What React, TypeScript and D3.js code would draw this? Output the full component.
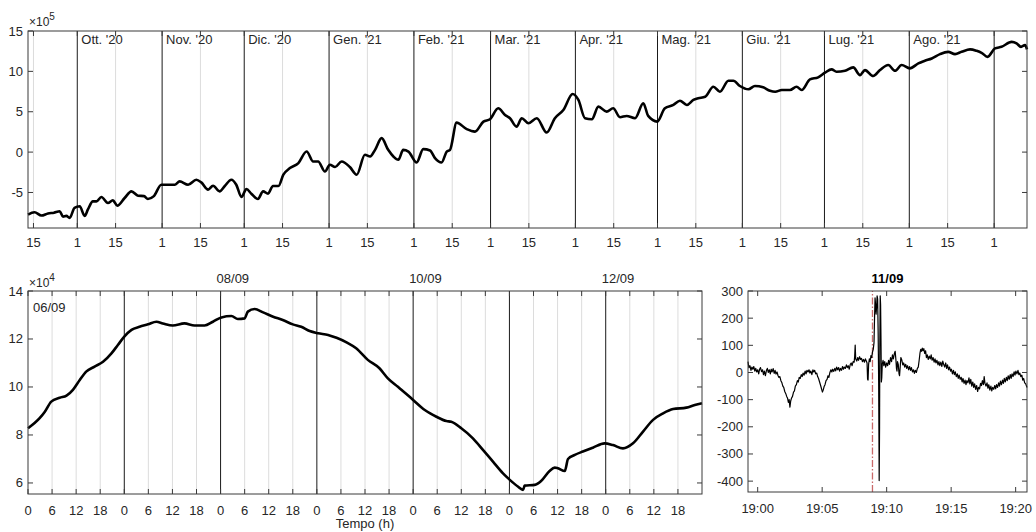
import * as React from "react";
import * as d3 from "d3";

const FONT = "'Liberation Sans', Arial, sans-serif";
const AXIS = "#3a3a3a";
const TXT = "#262626";

// ---- top panel: one year, values ×10^5
const topStart = new Date(2020, 8, 13);
const topEnd = new Date(2021, 8, 13);
const monthLabels = ["Ott. '20", "Nov. '20", "Dic. '20", "Gen. '21", "Feb. '21", "Mar. '21", "Apr. '21", "Mag. '21", "Giu. '21", "Lug. '21", "Ago. '21"];
const topYTicks = [-5, 0, 5, 10, 15];
// [days since 13/09/2020, value]
const topSeries: [number, number][] = [
  [0, -7.74], [2.4, -7.45], [4.9, -7.86], [7.3, -7.6], [9.5, -7.5], [11.6, -7.33], [12.8, -8.0], [14, -7.9], [15.2, -8.15], [17, -6.9],
  [18.9, -6.7], [20.7, -7.9], [21.9, -7.1], [23.7, -6.1], [25, -6.1], [26.8, -5.56], [29.2, -6.3], [31, -5.97], [32.6, -6.63], [35.3, -5.68],
  [37.8, -4.86], [40.2, -5.4], [42.4, -5.45], [43.8, -5.8], [46, -5.45], [48.7, -4.04], [51.1, -4.04], [53.6, -4.04], [55.4, -3.63], [58.5, -4.04],
  [61.5, -3.42], [63.3, -3.75], [65.8, -4.65], [67.6, -4.16], [70, -4.86], [71.9, -4.2], [74.3, -3.42], [76.1, -4.04], [78, -5.56], [79.8, -4.57],
  [81.6, -5.15], [84, -5.8], [85.9, -4.86], [87.7, -5.15], [89.5, -4.2], [91.5, -4.2], [93.3, -2.8], [95.7, -1.98], [98.8, -1.36], [101.8, 0.07],
  [104.2, -1.16], [106, -1.16], [108.5, -2.4], [110.3, -1.57], [112.2, -1.85], [114.6, -1.16], [117.6, -1.85], [120.1, -2.8], [123.1, -0.33], [125, -0.54],
  [126.8, 0.28], [129.2, 1.73], [131.6, 0.28], [133.5, -0.54], [135.3, -0.95], [137.1, 0.28], [139, 0.07], [142, -1.28], [144.4, 0.37], [146.9, 0.2],
  [148.7, -0.74], [151.1, -1.28], [153, 0.07], [154.2, 0.28], [156.6, 3.65], [160.3, 2.84], [163.3, 2.54], [166.4, 3.78], [168.8, 4.07], [171.8, 5.43],
  [174.3, 4.6], [176.1, 4.2], [178.5, 3.16], [180.4, 4.2], [182.8, 3.58], [185.9, 4.2], [189.5, 2.42], [192.5, 4.2], [195.6, 5.22], [199, 7.2],
  [201.1, 6.46], [203.5, 4.2], [206, 4.07], [208.4, 5.63], [211.4, 5.01], [213.8, 5.43], [216.3, 4.32], [218.7, 4.48], [221.8, 4.2], [224.8, 6.05],
  [226.6, 4.48], [229.9, 3.78], [232.7, 5.43], [235.8, 5.84], [238.2, 6.37], [240.7, 5.84], [243.1, 6.46], [244.9, 6.67], [247.4, 6.86], [250.4, 8.1],
  [252.8, 7.48], [255.9, 8.84], [257.7, 8.84], [260.1, 8.19], [263.2, 7.78], [265.6, 8.19], [268.6, 8.02], [271.1, 7.6], [273, 7.48], [275.4, 7.69],
  [278.4, 7.69], [280.8, 8.1], [282.7, 7.69], [285.7, 9.01], [288.7, 9.26], [291.2, 9.83], [293.6, 10.25], [295.4, 9.95], [298.5, 10.07], [301.5, 10.49],
  [304, 9.54], [305.8, 10.16], [308.8, 9.42], [311.3, 10.16], [314.3, 10.78], [316.8, 10.07], [319.2, 10.78], [322.2, 10.37], [325.3, 10.99], [327.7, 11.31],
  [330.2, 11.6], [333.2, 12.14], [336.2, 12.42], [338.7, 12.14], [341.1, 12.42], [344.2, 12.72], [346.6, 12.54], [348.4, 12.3], [350.6, 11.8], [353.3, 12.84],
  [355.7, 13.04], [359.4, 13.65], [361.2, 13.46], [362.8, 13.04], [364.3, 13.25], [365, 12.72],
];

// ---- bottom-left panel: 7 days in hours, values ×10^4
const dayLabels = ["08/09", "10/09", "12/09"];
const dayLabelAt = [2, 4, 6];
const midYTicks = [6, 8, 10, 12, 14];
const midSeries: [number, number][] = [
  [0, 8.28], [2.9, 8.7], [4.2, 8.97], [5.8, 9.39], [7.9, 9.55], [9.6, 9.64], [11.2, 9.88], [12.9, 10.29], [14.5, 10.64], [16.6, 10.85],
  [18.7, 11.05], [20.8, 11.4], [22.4, 11.75], [24, 12.1], [25.8, 12.38], [27.8, 12.51], [29.9, 12.61], [32, 12.72], [33.6, 12.65], [36.1, 12.56],
  [39, 12.65], [41.5, 12.56], [44, 12.56], [46.1, 12.72], [48.2, 12.9], [50.7, 12.96], [52.3, 12.83], [54, 12.86], [54.8, 13.14], [56.5, 13.25],
  [58.6, 13.11], [61.1, 12.93], [63.5, 12.79], [66, 12.61], [68.1, 12.51], [70.2, 12.33], [72.3, 12.24], [74.8, 12.17], [76.9, 12.05], [79.4, 11.86],
  [81.8, 11.61], [84.7, 11.13], [87.6, 10.78], [89.7, 10.36], [92.2, 10.01], [96, 9.46], [98.9, 9.04], [101.8, 8.76], [104.3, 8.58], [105.5, 8.55],
  [108, 8.28], [110.9, 7.86], [113.4, 7.38], [115.9, 6.89], [118.4, 6.4], [120.1, 6.13], [122.1, 5.85], [123.4, 5.71], [123.8, 5.89], [126.3, 5.92],
  [127.9, 6.08], [130, 6.5], [131.3, 6.64], [132.1, 6.61], [133.8, 6.5], [134.6, 7.0], [136.3, 7.17], [138.3, 7.31], [140.8, 7.47], [143.7, 7.65],
  [145.8, 7.58], [148.3, 7.44], [150.8, 7.65], [153.3, 8.14], [155.8, 8.63], [158.3, 8.9], [160.8, 9.08], [164.1, 9.14], [166.2, 9.25], [168, 9.32],
];

// ---- bottom-right panel: minutes after 19:00 on 11/09
const rtXTicks = [0, 5, 10, 15, 20];
const rtXLabels = ["19:00", "19:05", "19:10", "19:15", "19:20"];
const rtYTicks = [-400, -300, -200, -100, 0, 100, 200, 300];
const rtMarker = 8.9;
const rtSeries: [number, number][] = [
  [-0.75, 40], [-0.68, 18], [-0.6, 25], [-0.52, 8], [-0.45, 20], [-0.38, 12], [-0.3, 22], [-0.22, 5], [-0.15, 15], [-0.08, 2],
  [0, 10], [0.08, -5], [0.15, 12], [0.22, 18], [0.3, 3], [0.38, 10], [0.45, -8], [0.52, 5], [0.6, -12], [0.68, 8],
  [0.75, 15], [0.82, 0], [0.9, 10], [0.98, -5], [1.05, 12], [1.12, 2], [1.2, 14], [1.28, -3], [1.35, 8], [1.42, -6],
  [1.5, 2], [1.58, -12], [1.65, -18], [1.72, -15], [1.8, -30], [1.88, -38], [1.95, -50], [2.02, -55], [2.1, -70], [2.18, -78],
  [2.25, -88], [2.32, -95], [2.38, -110], [2.44, -100], [2.5, -128], [2.56, -105], [2.62, -95], [2.7, -88], [2.78, -72], [2.85, -68],
  [2.92, -50], [3.0, -45], [3.08, -30], [3.15, -35], [3.22, -18], [3.3, -22], [3.38, -8], [3.45, -15], [3.52, -2], [3.6, -10],
  [3.68, 5], [3.75, -5], [3.82, 8], [3.9, 2], [3.98, 10], [4.05, -2], [4.12, 5], [4.2, -8], [4.28, 10], [4.35, 2],
  [4.42, 8], [4.5, -5], [4.58, -2], [4.65, -15], [4.72, -22], [4.8, -35], [4.88, -48], [4.95, -60], [5.02, -72], [5.08, -65],
  [5.15, -52], [5.22, -45], [5.3, -30], [5.38, -25], [5.45, -12], [5.52, -18], [5.6, 0], [5.68, 10], [5.75, 2], [5.82, 12],
  [5.9, 4], [5.98, 15], [6.05, 6], [6.12, 20], [6.2, 10], [6.28, 18], [6.35, 5], [6.42, 15], [6.5, 8], [6.58, 22],
  [6.65, 12], [6.72, 20], [6.8, 15], [6.88, 28], [6.95, 18], [7.02, 25], [7.1, 12], [7.18, 30], [7.25, 35], [7.32, 25],
  [7.4, 40], [7.48, 38], [7.52, 60], [7.56, 101], [7.6, 50], [7.68, 42], [7.75, 55], [7.82, 45], [7.9, 58], [7.98, 48],
  [8.05, 52], [8.12, 40], [8.2, 48], [8.28, 38], [8.35, 50], [8.42, 42], [8.48, 35], [8.52, -25], [8.56, -28], [8.6, 30],
  [8.66, 50], [8.72, 40], [8.78, 62], [8.84, 55], [8.9, 75], [8.96, 85], [9.02, 110], [9.06, 200], [9.1, 275], [9.14, 250],
  [9.18, 215], [9.22, 240], [9.26, 282], [9.3, 270], [9.34, 150], [9.38, -40], [9.42, -398], [9.45, -200], [9.47, 100], [9.5, 282],
  [9.53, 250], [9.56, 120], [9.59, -35], [9.62, -20], [9.66, 30], [9.72, 45], [9.78, 25], [9.85, 40], [9.92, 20], [10.0, 35],
  [10.08, 25], [10.15, 45], [10.22, 30], [10.3, 55], [10.38, 40], [10.45, 65], [10.52, 50], [10.6, 70], [10.66, 78], [10.72, 45],
  [10.76, 15], [10.8, 5], [10.84, 40], [10.9, 30], [10.96, -5], [11.0, -12], [11.05, 20], [11.1, 55], [11.18, 45], [11.25, 28],
  [11.32, 35], [11.4, 20], [11.48, 30], [11.55, 15], [11.62, 25], [11.7, 10], [11.78, 22], [11.85, 8], [11.92, 18], [12.0, 2],
  [12.08, 10], [12.15, -3], [12.22, 8], [12.3, 0], [12.38, 15], [12.45, 20], [12.52, 45], [12.58, 70], [12.64, 85], [12.7, 78],
  [12.76, 90], [12.82, 80], [12.88, 88], [12.95, 70], [13.02, 80], [13.08, 55], [13.15, 65], [13.22, 48], [13.3, 60], [13.38, 50],
  [13.45, 65], [13.52, 45], [13.6, 55], [13.68, 38], [13.75, 50], [13.82, 35], [13.9, 45], [13.98, 28], [14.05, 40], [14.12, 25],
  [14.2, 38], [14.28, 22], [14.35, 42], [14.42, 30], [14.5, 20], [14.58, 35], [14.65, 15], [14.72, 28], [14.8, 10], [14.88, 20],
  [14.95, 5], [15.02, 12], [15.1, -5], [15.18, 8], [15.25, -8], [15.32, 2], [15.4, -15], [15.48, -5], [15.55, -22], [15.62, -10],
  [15.7, -25], [15.78, -18], [15.85, -35], [15.92, -22], [16.0, -40], [16.08, -28], [16.15, -45], [16.22, -30], [16.3, -38], [16.38, -20],
  [16.45, -42], [16.52, -25], [16.6, -50], [16.68, -35], [16.75, -55], [16.82, -42], [16.9, -62], [16.98, -48], [17.05, -70], [17.12, -55],
  [17.2, -60], [17.28, -40], [17.35, -48], [17.42, -30], [17.5, -45], [17.56, -15], [17.62, -40], [17.7, -50], [17.78, -38], [17.85, -58],
  [17.92, -45], [18.0, -65], [18.08, -50], [18.15, -68], [18.22, -55], [18.3, -62], [18.38, -48], [18.45, -60], [18.52, -45], [18.6, -55],
  [18.68, -38], [18.75, -50], [18.82, -32], [18.9, -45], [18.98, -28], [19.05, -40], [19.12, -22], [19.2, -35], [19.28, -18], [19.35, -30],
  [19.42, -12], [19.5, -25], [19.58, -8], [19.65, -22], [19.72, -5], [19.8, -15], [19.88, 2], [19.95, -10], [20.02, 5], [20.1, -5],
  [20.18, 8], [20.25, -8], [20.32, -2], [20.4, -15], [20.48, -10], [20.55, -28], [20.62, -22], [20.7, -38], [20.78, -42], [20.88, -55],
];

const TICK = 5;

const Times10 = ({ x, y, exp }: { x: number; y: number; exp: number }) => (
  <text x={x} y={y} fontSize={12} fill={TXT} fontFamily={FONT}>
    ×10<tspan dy={-6} fontSize={10}>{exp}</tspan>
  </text>
);

const TopPanel = () => {
  const x = d3.scaleTime().domain([topStart, topEnd]).range([28, 1027]);
  const y = d3.scaleLinear().domain([-9.4, 15]).range([228, 31]);
  const [x0, x1] = x.range();
  const [y0, y1] = y.range();
  const months = d3.timeMonth.range(d3.timeDay.offset(topStart, 1), topEnd);
  const mids = d3.timeDay.range(topStart, topEnd).filter((d) => d.getDate() === 15);
  const toDate = (d: number) => new Date(topStart.getTime() + d * 864e5);
  const line = d3
    .line<[number, number]>()
    .x((d) => x(toDate(d[0])))
    .y((d) => y(d[1]))
    .curve(d3.curveMonotoneX);

  return (
    <g>
      {mids.map((d, i) => (
        <line key={"g" + i} x1={x(d)} x2={x(d)} y1={y0} y2={y1} stroke="#dcdcdc" />
      ))}
      {months.map((d, i) => (
        <line key={"m" + i} x1={x(d)} x2={x(d)} y1={y0} y2={y1} stroke="#1a1a1a" />
      ))}
      {months.slice(0, monthLabels.length).map((d, i) => (
        <text key={"ml" + i} x={x(d) + 4} y={44} fontSize={13} fill={TXT} fontFamily={FONT}>
          {monthLabels[i]}
        </text>
      ))}
      <path d={line(topSeries) ?? ""} fill="none" stroke="#000" strokeWidth={2.6} strokeLinejoin="round" />
      <rect x={x0} y={y1} width={x1 - x0} height={y0 - y1} fill="none" stroke={AXIS} />
      {[...mids, ...months].map((d, i) => (
        <g key={"xt" + i}>
          <line x1={x(d)} x2={x(d)} y1={y0} y2={y0 - TICK} stroke={AXIS} />
          <line x1={x(d)} x2={x(d)} y1={y1} y2={y1 + TICK} stroke={AXIS} />
          <text x={x(d)} y={247} textAnchor="middle" fontSize={13} fill={TXT} fontFamily={FONT}>
            {d.getDate()}
          </text>
        </g>
      ))}
      {topYTicks.map((v) => (
        <g key={"yt" + v}>
          <line x1={x0} x2={x0 + TICK} y1={y(v)} y2={y(v)} stroke={AXIS} />
          <line x1={x1} x2={x1 - TICK} y1={y(v)} y2={y(v)} stroke={AXIS} />
          <text x={x0 - 5} y={y(v) + 4.5} textAnchor="end" fontSize={13} fill={TXT} fontFamily={FONT}>
            {v}
          </text>
        </g>
      ))}
      <Times10 x={29} y={26} exp={5} />
    </g>
  );
};

const MidPanel = () => {
  const x = d3.scaleLinear().domain([0, 168]).range([28, 702]);
  const y = d3.scaleLinear().domain([5.54, 14]).range([494, 291]);
  const [x0, x1] = x.range();
  const [y0, y1] = y.range();
  const hours = d3.range(0, 168, 6);
  const line = d3
    .line<[number, number]>()
    .x((d) => x(d[0]))
    .y((d) => y(d[1]))
    .curve(d3.curveMonotoneX);

  return (
    <g>
      {hours.filter((h) => h > 0).map((h) => (
        <line key={"g" + h} x1={x(h)} x2={x(h)} y1={y0} y2={y1} stroke={h % 24 === 0 ? "#1a1a1a" : "#dcdcdc"} />
      ))}
      <path d={line(midSeries) ?? ""} fill="none" stroke="#000" strokeWidth={2.6} strokeLinejoin="round" />
      <rect x={x0} y={y1} width={x1 - x0} height={y0 - y1} fill="none" stroke={AXIS} />
      {hours.map((h) => (
        <g key={"xt" + h}>
          <line x1={x(h)} x2={x(h)} y1={y0} y2={y0 - TICK} stroke={AXIS} />
          <line x1={x(h)} x2={x(h)} y1={y1} y2={y1 + TICK} stroke={AXIS} />
          <text x={x(h)} y={515} textAnchor="middle" fontSize={13} fill={TXT} fontFamily={FONT}>
            {h % 24}
          </text>
        </g>
      ))}
      {midYTicks.map((v) => (
        <g key={"yt" + v}>
          <line x1={x0} x2={x0 + TICK} y1={y(v)} y2={y(v)} stroke={AXIS} />
          <line x1={x1} x2={x1 - TICK} y1={y(v)} y2={y(v)} stroke={AXIS} />
          <text x={x0 - 5} y={y(v) + 4.5} textAnchor="end" fontSize={13} fill={TXT} fontFamily={FONT}>
            {v}
          </text>
        </g>
      ))}
      {dayLabels.map((s, i) => (
        <text key={s} x={x(dayLabelAt[i] * 24) - 4} y={283} fontSize={13} fill={TXT} fontFamily={FONT}>
          {s}
        </text>
      ))}
      <text x={33} y={312} fontSize={13} fill={TXT} fontFamily={FONT}>06/09</text>
      <text x={(x0 + x1) / 2} y={528} textAnchor="middle" fontSize={13} fill={TXT} fontFamily={FONT}>
        Tempo (h)
      </text>
      <Times10 x={29} y={287} exp={4} />
    </g>
  );
};

const RightPanel = () => {
  const x = d3.scaleLinear().domain([-0.75, 20.88]).range([748, 1027]);
  const y = d3.scaleLinear().domain([-440, 300]).range([492, 291]);
  const [x0, x1] = x.range();
  const [y0, y1] = y.range();
  const line = d3
    .line<[number, number]>()
    .x((d) => x(d[0]))
    .y((d) => y(d[1]));

  return (
    <g>
      <line x1={x(rtMarker)} x2={x(rtMarker)} y1={y0} y2={y1} stroke="#c96a6a" strokeWidth={1.3} strokeDasharray="7,2,1.5,2" />
      <path d={line(rtSeries) ?? ""} fill="none" stroke="#000" strokeWidth={1.2} strokeLinejoin="round" />
      <rect x={x0} y={y1} width={x1 - x0} height={y0 - y1} fill="none" stroke={AXIS} />
      {rtXTicks.map((m, i) => (
        <g key={"xt" + m}>
          <line x1={x(m)} x2={x(m)} y1={y0} y2={y0 - TICK} stroke={AXIS} />
          <line x1={x(m)} x2={x(m)} y1={y1} y2={y1 + TICK} stroke={AXIS} />
          <text x={x(m)} y={513} textAnchor="middle" fontSize={13} fill={TXT} fontFamily={FONT}>
            {rtXLabels[i]}
          </text>
        </g>
      ))}
      {rtYTicks.map((v) => (
        <g key={"yt" + v}>
          <line x1={x0} x2={x0 + TICK} y1={y(v)} y2={y(v)} stroke={AXIS} />
          <line x1={x1} x2={x1 - TICK} y1={y(v)} y2={y(v)} stroke={AXIS} />
          <text x={x0 - 5} y={y(v) + 4.5} textAnchor="end" fontSize={13} fill={TXT} fontFamily={FONT}>
            {v}
          </text>
        </g>
      ))}
      <text x={(x0 + x1) / 2} y={283} textAnchor="middle" fontSize={13} fontWeight="bold" fill="#000" fontFamily={FONT}>
        11/09
      </text>
    </g>
  );
};

export default function App() {
  return (
    <svg width={1036} height={532} style={{ position: "absolute", left: 0, top: 0, background: "#fff" }}>
      <TopPanel />
      <MidPanel />
      <RightPanel />
    </svg>
  );
}
